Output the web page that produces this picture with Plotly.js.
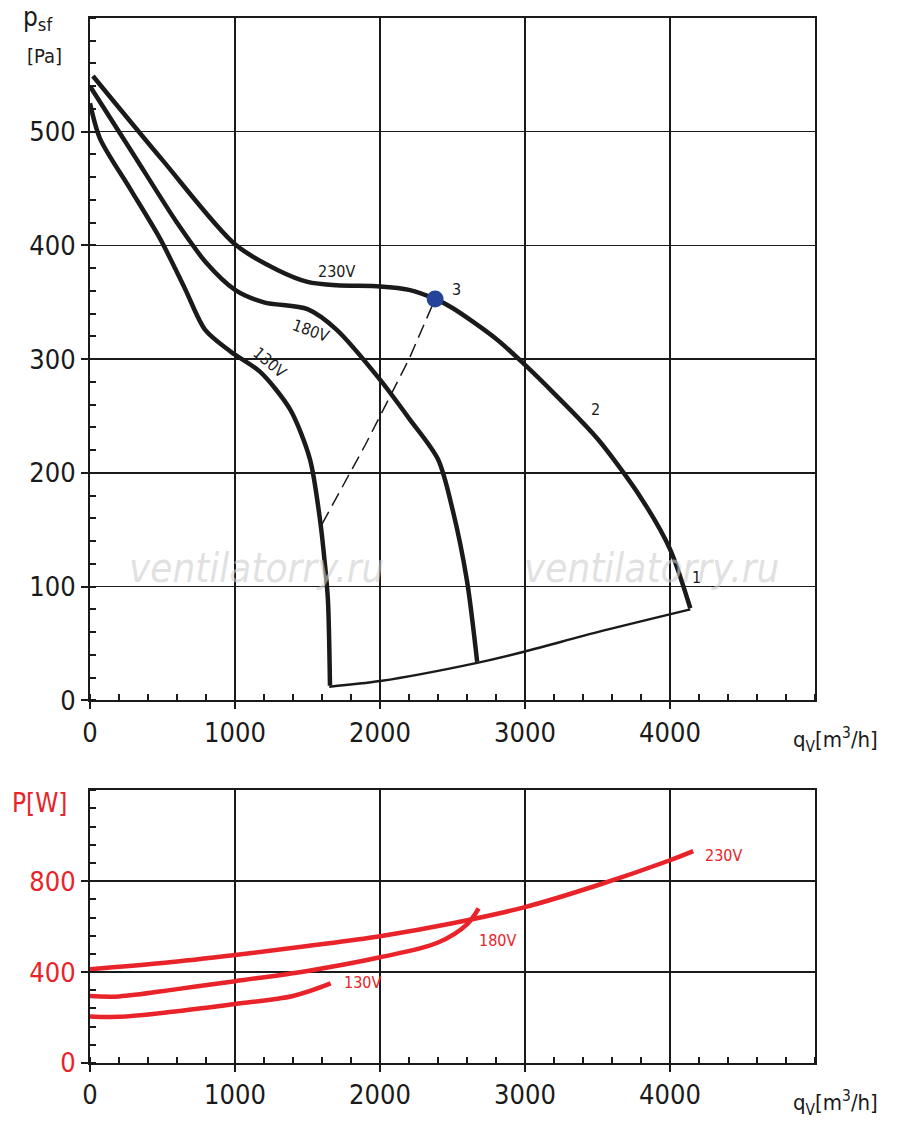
<!DOCTYPE html>
<html><head><meta charset="utf-8">
<script src="https://cdn.plot.ly/plotly-3.0.1.min.js"></script>
<style>body{margin:0}#c{width:900px;height:1131px}</style></head>
<body><div id="c"></div>
<script>
// Pressure curves (q [m3/h], p [Pa])
const q230=[20,500,1000,1300,1500,1700,2000,2200,2380,2500,2800,3000,3200,3500,3800,4000,4140];
const p230=[549,475,401,378,368,365,364,361,353,345,318,295,270,230,178,133,81];
const q180=[0,300,600,800,1000,1200,1500,1700,2000,2200,2400,2500,2600,2670];
const p180=[540,480,420,385,361,350,344,326,282,248,212,168,105,34];
const q130=[0,69,276,483,655,793,966,1172,1379,1517,1586,1620,1641,1655];
const p130=[525,494,450,406,362,326,307,289,256,212,159,120,88,13];
const qSys=[1650,2000,2670,3000,3500,4140];
const pSys=[12,17,33,43,60,80];
const qDash=[1600,1900,2200,2380];
const pDash=[155,225,300,353];
const qPt=[2380], pPt=[353];
// Power curves (q, P [W])
const qP230=[0,500,1000,1500,2000,2500,3000,3500,4000,4160];
const P230=[413,440,475,515,558,615,686,782,892,932];
const qP180=[0,200,600,1000,1500,2000,2400,2600,2680];
const P180=[295,293,325,360,405,465,530,610,680];
const qP130=[0,200,600,1000,1400,1660];
const P130=[205,203,228,260,295,350];

const blk='#1a1a1a', red='#e8232a';
const L=(x,y,w,extra)=>Object.assign({x,y,mode:'lines',line:{color:blk,width:w,shape:'spline',smoothing:0.8},xaxis:'x',yaxis:'y',hoverinfo:'skip'},extra||{});
const traces=[
 L(q230,p230,4.5),L(q180,p180,4.5),L(q130,p130,4.5),
 L(qSys,pSys,2.5),
 L(qDash,pDash,1.5,{line:{color:blk,width:1.5,dash:'14px,7px'}}),
 {x:qPt,y:pPt,mode:'markers',marker:{color:'#24449a',size:17},xaxis:'x',yaxis:'y'},
 {x:qP230,y:P230,mode:'lines',line:{color:red,width:4.5,shape:'spline'},xaxis:'x2',yaxis:'y2'},
 {x:qP180,y:P180,mode:'lines',line:{color:red,width:4.5,shape:'spline'},xaxis:'x2',yaxis:'y2'},
 {x:qP130,y:P130,mode:'lines',line:{color:red,width:4.5,shape:'spline'},xaxis:'x2',yaxis:'y2'}
];
const FF='"DejaVu Sans Condensed", "DejaVu Sans", sans-serif';
const tf={family:FF,size:27,color:blk};
const mn=(d)=>({dtick:d,ticks:'inside',ticklen:6,tickwidth:2,tickcolor:blk,showgrid:false});
const ax=(extra)=>Object.assign({showgrid:true,gridcolor:blk,gridwidth:1.5,zeroline:false,
 showline:true,linecolor:blk,linewidth:2,mirror:true,ticks:'outside',ticklen:7,tickwidth:2,tickcolor:blk,
 tickfont:tf,fixedrange:true},extra);
const ann=(x,y,t,xr,yr,c,rot,s)=>({x,y,xref:xr,yref:yr,text:t,showarrow:false,textangle:rot||0,
 font:{family:FF,size:s||16,color:c||blk}});
const layout={
 width:900,height:1131,margin:{l:90,r:85,t:18,b:68},showlegend:false,
 paper_bgcolor:'white',plot_bgcolor:'white',
 xaxis:ax({range:[0,5000],tickvals:[0,1000,2000,3000,4000],domain:[0,1],anchor:'y',minor:mn(200)}),
 yaxis:ax({range:[0,600],tickvals:[0,100,200,300,400,500],domain:[0.347,1],anchor:'x',minor:mn(20)}),
 xaxis2:ax({range:[0,5000],tickvals:[0,1000,2000,3000,4000],domain:[0,1],anchor:'y2',minor:mn(200)}),
 yaxis2:ax({range:[0,1200],tickvals:[0,400,800],domain:[0,0.261],anchor:'x2',tickfont:Object.assign({},tf,{color:red}),minor:mn(80)}),
 annotations:[
  ann(1697,377,'230V','x','y'),
  ann(1520,325,'180V','x','y',blk,20),
  ann(1240,297,'130V','x','y',blk,40),
  ann(2531,361,'3','x','y'),
  ann(3483,256,'2','x','y'),
  ann(4186,108,'1','x','y'),
  ann(4372,915,'230V','x2','y2',red),
  ann(2807,540,'180V','x2','y2',red),
  ann(1876,352,'130V','x2','y2',red),
  {x:-0.095,y:1.0,xref:'paper',yref:'paper',xanchor:'left',yanchor:'top',yshift:18,showarrow:false,
   text:'p<sub>sf</sub>',font:{family:FF,size:26,color:blk}},
  {x:-0.09,y:0.977,xref:'paper',yref:'paper',xanchor:'left',yanchor:'top',showarrow:false,
   text:'[Pa]',font:{family:FF,size:20,color:blk}},
  {x:1.09,y:0.347,xref:'paper',yref:'paper',xanchor:'right',yanchor:'top',yshift:-22,showarrow:false,
   text:'q<sub>V</sub>[m<sup>3</sup>/h]',font:{family:FF,size:22,color:blk}},
  {x:1.09,y:0,xref:'paper',yref:'paper',xanchor:'right',yanchor:'top',yshift:-22,showarrow:false,
   text:'q<sub>V</sub>[m<sup>3</sup>/h]',font:{family:FF,size:22,color:blk}},
  {x:-0.11,y:0.261,xref:'paper',yref:'paper',xanchor:'left',yanchor:'top',yshift:4,showarrow:false,
   text:'P[W]',font:{family:FF,size:26,color:red}},
  {x:1150,y:116,xref:'x',yref:'y',showarrow:false,text:'<i>ventilatorry.ru</i>',
   font:{family:FF,size:40,color:'rgba(205,205,205,0.6)'}},
  {x:3870,y:116,xref:'x',yref:'y',showarrow:false,text:'<i>ventilatorry.ru</i>',
   font:{family:FF,size:40,color:'rgba(205,205,205,0.6)'}}
 ]
};
Plotly.newPlot('c',traces,layout,{staticPlot:true});
</script></body></html>
